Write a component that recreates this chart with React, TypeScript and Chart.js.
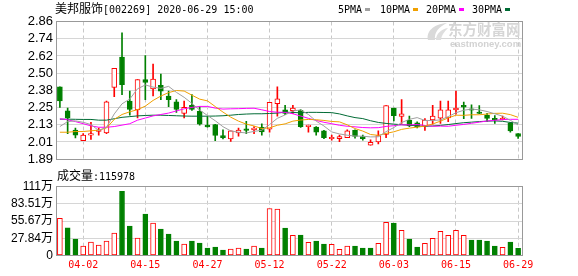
import React, { useEffect, useRef } from 'react';
import { Chart, registerables } from 'chart.js';
Chart.register(...registerables);

const TITLE_NAME = '美邦服饰';
const TITLE_REST = '[002269] 2020-06-29 15:00';
const VOLUME_TITLE = '成交量';
const VOLUME_LAST = ':115978';

const DATES = [
  '03-30','03-31','04-01','04-02','04-03','04-07','04-08','04-09','04-10','04-13',
  '04-14','04-15','04-16','04-17','04-20','04-21','04-22','04-23','04-24','04-27',
  '04-28','04-29','04-30','05-06','05-07','05-08','05-11','05-12','05-13','05-14',
  '05-15','05-18','05-19','05-20','05-21','05-22','05-25','05-26','05-27','05-28',
  '05-29','06-01','06-02','06-03','06-04','06-05','06-08','06-09','06-10','06-11',
  '06-12','06-15','06-16','06-17','06-18','06-19','06-22','06-23','06-24','06-29',
];
const X_TICKS = ['04-02','04-15','04-27','05-12','05-22','06-03','06-15','06-29'];

const OPEN = [
  2.40,2.23,2.095,2.02,2.06,2.085,2.075,2.395,2.61,2.30,
  2.237,2.45,2.385,2.41,2.335,2.295,2.213,2.27,2.228,2.13,
  2.133,2.057,2.033,2.075,2.10,2.097,2.115,2.102,2.282,2.237,
  2.232,2.235,2.12,2.117,2.09,2.034,2.035,2.042,2.093,2.049,
  1.989,2.011,2.064,2.25,2.192,2.164,2.146,2.122,2.166,2.179,
  2.18,2.237,2.27,2.244,2.219,2.199,2.177,2.168,2.146,2.071,
];
const CLOSE = [
  2.30,2.18,2.06,2.06,2.07,2.09,2.295,2.53,2.415,2.24,
  2.45,2.43,2.455,2.37,2.31,2.24,2.255,2.24,2.137,2.118,
  2.057,2.042,2.09,2.095,2.093,2.11,2.082,2.29,2.315,2.212,
  2.25,2.12,2.13,2.08,2.042,2.036,2.05,2.089,2.05,2.035,
  2.009,2.057,2.268,2.197,2.21,2.124,2.117,2.166,2.193,2.237,
  2.237,2.25,2.257,2.235,2.212,2.177,2.168,2.172,2.09,2.05,
];
const HIGH = [
  2.40,2.25,2.11,2.07,2.15,2.11,2.30,2.53,2.78,2.37,
  2.45,2.62,2.56,2.49,2.37,2.31,2.30,2.345,2.26,2.19,
  2.135,2.097,2.09,2.11,2.157,2.12,2.14,2.29,2.40,2.27,
  2.27,2.24,2.13,2.12,2.093,2.06,2.06,2.097,2.097,2.06,
  2.027,2.089,2.268,2.25,2.31,2.193,2.153,2.177,2.27,2.30,
  2.30,2.37,2.293,2.273,2.268,2.213,2.197,2.193,2.15,2.071,
];
const LOW = [
  2.255,2.07,2.04,2.02,2.03,2.06,2.07,2.33,2.345,2.20,
  2.18,2.31,2.335,2.31,2.26,2.22,2.18,2.233,2.13,2.115,
  2.02,2.033,2.015,2.053,2.07,2.07,2.06,2.08,2.193,2.204,
  2.21,2.113,2.08,2.06,2.035,2.024,2.013,2.042,2.038,2.024,
  1.989,1.997,2.042,2.16,2.142,2.12,2.11,2.093,2.137,2.142,
  2.155,2.208,2.175,2.177,2.21,2.157,2.142,2.166,2.08,2.037,
];

const MA5 = [
  2.12,2.155,2.16,2.15,2.134,2.092,2.115,2.209,2.28,2.314,
  2.386,2.413,2.398,2.389,2.403,2.361,2.326,2.283,2.236,2.198,
  2.161,2.119,2.089,2.080,2.075,2.086,2.094,2.134,2.178,2.202,
  2.230,2.237,2.205,2.158,2.124,2.082,2.068,2.059,2.053,2.052,
  2.047,2.048,2.084,2.113,2.148,2.171,2.183,2.163,2.162,2.167,
  2.19,2.217,2.235,2.243,2.238,2.226,2.210,2.193,2.164,2.131,
];
const MA10 = [
  2.08,2.08,2.085,2.085,2.09,2.095,2.11,2.17,2.205,2.224,
  2.239,2.264,2.304,2.335,2.359,2.374,2.370,2.341,2.313,2.301,
  2.261,2.222,2.186,2.158,2.137,2.124,2.106,2.111,2.129,2.139,
  2.158,2.166,2.170,2.168,2.163,2.156,2.153,2.132,2.106,2.088,
  2.064,2.058,2.072,2.083,2.100,2.109,2.116,2.123,2.138,2.158,
  2.181,2.200,2.199,2.203,2.203,2.208,2.213,2.214,2.204,2.185,
];
const MA20 = [
  2.175,2.168,2.155,2.14,2.125,2.115,2.115,2.12,2.13,2.14,
  2.165,2.18,2.195,2.205,2.215,2.23,2.245,2.255,2.262,2.262,
  2.250,2.243,2.245,2.246,2.248,2.249,2.238,2.226,2.221,2.220,
  2.210,2.194,2.178,2.163,2.150,2.140,2.129,2.122,2.118,2.113,
  2.111,2.112,2.121,2.126,2.132,2.132,2.134,2.128,2.122,2.123,
  2.122,2.129,2.135,2.143,2.151,2.159,2.164,2.169,2.171,2.171,
];
const MA30 = [
  2.172,2.172,2.171,2.17,2.17,2.165,2.165,2.175,2.185,2.19,
  2.195,2.198,2.2,2.2,2.198,2.196,2.194,2.193,2.193,2.193,
  2.194,2.196,2.2,2.205,2.208,2.21,2.21,2.212,2.215,2.221,
  2.219,2.217,2.220,2.220,2.219,2.218,2.209,2.195,2.183,2.176,
  2.161,2.149,2.142,2.137,2.133,2.129,2.125,2.122,2.124,2.128,
  2.134,2.141,2.147,2.151,2.155,2.158,2.160,2.157,2.149,2.144,
];

// volume in 万
const VOLUME = [
  60.0,44.9,26.6,15.3,21.8,17.0,23.4,36.3,104.0,47.6,
  28.2,67.0,52.5,42.8,34.7,23.4,18.6,23.4,20.2,12.0,
  13.7,8.9,10.5,12.0,10.5,15.3,12.0,76.0,75.0,44.4,
  32.6,33.0,21.3,23.4,18.6,18.0,10.0,15.3,15.3,12.0,
  12.0,19.7,53.6,52.5,40.7,26.6,13.7,19.7,27.8,39.0,
  32.6,40.7,32.6,25.0,25.0,23.4,15.3,13.2,21.8,11.6,
];
const VOLUME_UP = [
  1,0,0,1,1,1,1,1,0,0,
  1,0,1,0,0,0,1,0,0,0,
  0,0,1,1,0,1,0,1,1,0,
  1,0,1,0,0,1,1,1,0,0,
  0,1,1,0,1,0,0,1,1,1,
  1,1,1,0,0,0,0,1,0,0,
];

const PRICE_MIN = 1.89;
const PRICE_MAX = 2.86;
const PRICE_TICK_LABELS = ['1.89','2.01','2.13','2.25','2.38','2.50','2.62','2.74','2.86'];
const VOL_MAX = 111.35;
const VOL_TICK_LABELS = ['0','27.84万','55.67万','83.51万','111万'];

const LEGEND = [
  { name: '5PMA', color: '#a0a0a0', x: 338, sq: 365 },
  { name: '10PMA', color: '#f0a000', x: 380, sq: 413 },
  { name: '20PMA', color: '#ff00ff', x: 426, sq: 459 },
  { name: '30PMA', color: '#006b35', x: 472, sq: 505 },
];

const RED = '#ff0000';
const GREEN = '#008000';
const MONO = "'DejaVu Sans Mono', monospace";
const CJK = "'Noto Sans CJK SC', sans-serif";
const SANS = "'Liberation Sans', Arial, 'Noto Sans CJK SC', sans-serif";

const framePlugin = {
  id: 'frame',
  afterDraw(chart: any) {
    const { ctx, chartArea: a } = chart;
    const x0 = Math.floor(a.left) + 0.5;
    const x1 = Math.floor(a.right) + 0.5;
    const y0 = Math.floor(a.top) + 0.5;
    const y1 = Math.floor(a.bottom) + 0.5;
    ctx.save();
    ctx.strokeStyle = '#999999';
    ctx.lineWidth = 1;
    ctx.strokeRect(x0, y0, x1 - x0, y1 - y0);
    ctx.restore();
  },
};

const vGridColor = (ctx: any) =>
  X_TICKS.includes(DATES[ctx.index]) ? '#c8c8c8' : 'rgba(0,0,0,0)';

export default function App() {
  const mainRef = useRef<HTMLCanvasElement>(null);
  const volRef = useRef<HTMLCanvasElement>(null);

  useEffect(() => {
    const up = CLOSE.map((c, i) => c >= OPEN[i]);
    const candleColor = up.map((u) => (u ? RED : GREEN));
    const mk = (data: number[], color: string) => ({
      type: 'line' as const,
      data,
      borderColor: color,
      borderWidth: 1,
      pointRadius: 0,
      tension: 0,
      fill: false,
      order: 0,
    });

    const main = new Chart(mainRef.current!, {
      type: 'bar',
      data: {
        labels: DATES,
        datasets: [
          mk(MA5, LEGEND[0].color),
          mk(MA10, LEGEND[1].color),
          mk(MA20, LEGEND[2].color),
          mk(MA30, LEGEND[3].color),
          {
            type: 'bar',
            data: OPEN.map((o, i) => [o, CLOSE[i]]),
            backgroundColor: up.map((u) => (u ? '#ffffff' : GREEN)),
            borderColor: candleColor,
            borderWidth: 1,
            borderSkipped: false,
            barThickness: 5,
            minBarLength: 1.5,
            grouped: false,
            order: 1,
          } as any,
          {
            type: 'bar',
            data: LOW.map((l, i) => [l, HIGH[i]]),
            backgroundColor: candleColor,
            borderWidth: 0,
            barThickness: 1,
            grouped: false,
            order: 2,
          } as any,
        ],
      },
      options: {
        responsive: false,
        animation: false,
        devicePixelRatio: 1,
        events: [],
        layout: { padding: { top: 21.5, right: 56, bottom: 4, left: 0 } },
        plugins: { legend: { display: false }, tooltip: { enabled: false } },
        scales: {
          x: {
            type: 'category',
            offset: true,
            grid: { offset: false, color: vGridColor, drawTicks: false, lineWidth: 1 },
            border: { display: false, dash: [4, 3] },
            ticks: { display: false },
            afterFit: (s: any) => { s.height = 0; },
          } as any,
          y: {
            type: 'linear',
            min: PRICE_MIN,
            max: PRICE_MAX,
            afterBuildTicks: (s: any) => {
              s.ticks = PRICE_TICK_LABELS.map((_, k) => ({
                value: PRICE_MIN + (k * (PRICE_MAX - PRICE_MIN)) / (PRICE_TICK_LABELS.length - 1),
              }));
            },
            ticks: {
              autoSkip: false,
              padding: 3,
              color: '#000000',
              font: { family: SANS, size: 13 },
              callback: (_v: any, i: number) => PRICE_TICK_LABELS[i],
            },
            grid: { color: '#d6d6d6', drawTicks: false },
            border: { display: false },
            afterFit: (s: any) => { s.width = 56; },
          } as any,
        },
      },
      plugins: [framePlugin],
    });

    const vol = new Chart(volRef.current!, {
      type: 'bar',
      data: {
        labels: DATES,
        datasets: [
          {
            data: VOLUME,
            backgroundColor: VOLUME_UP.map((u) => (u ? '#ffffff' : GREEN)),
            borderColor: VOLUME_UP.map((u) => (u ? RED : GREEN)),
            borderWidth: 1,
            borderSkipped: false,
            barThickness: 5,
          } as any,
        ],
      },
      options: {
        responsive: false,
        animation: false,
        devicePixelRatio: 1,
        events: [],
        layout: { padding: { top: 20.7, right: 56, bottom: 0.5, left: 0 } },
        plugins: { legend: { display: false }, tooltip: { enabled: false } },
        scales: {
          x: {
            type: 'category',
            offset: true,
            grid: { offset: false, color: vGridColor, drawTicks: false, lineWidth: 1 },
            border: { display: false, dash: [4, 3] },
            ticks: {
              autoSkip: false,
              maxRotation: 0,
              minRotation: 0,
              padding: 4,
              color: RED,
              font: { family: MONO, size: 10 },
              callback: (_v: any, i: number) => (X_TICKS.includes(DATES[i]) ? DATES[i] : ''),
            },
            afterFit: (s: any) => { s.height = 20; },
          } as any,
          y: {
            type: 'linear',
            min: 0,
            max: VOL_MAX,
            afterBuildTicks: (s: any) => {
              s.ticks = VOL_TICK_LABELS.map((_, k) => ({
                value: (k * VOL_MAX) / (VOL_TICK_LABELS.length - 1),
              }));
            },
            ticks: {
              autoSkip: false,
              padding: 3,
              color: '#000000',
              font: { family: SANS, size: 12 },
              callback: (_v: any, i: number) => VOL_TICK_LABELS[i],
            },
            grid: { color: '#d6d6d6', drawTicks: false },
            border: { display: false },
            afterFit: (s: any) => { s.width = 56; },
          } as any,
        },
      },
      plugins: [framePlugin],
    });

    return () => {
      main.destroy();
      vol.destroy();
    };
  }, []);

  const abs = (x: number, y: number): React.CSSProperties => ({
    position: 'absolute',
    left: x,
    top: y,
    whiteSpace: 'nowrap',
    margin: 0,
    padding: 0,
  });

  return (
    <div style={{ position: 'absolute', left: 0, top: 0, width: 578, height: 276, background: '#ffffff', overflow: 'hidden' }}>
      <canvas ref={mainRef} width={578} height={170} style={{ position: 'absolute', left: 0, top: 0, display: 'block' }} />
      <canvas ref={volRef} width={578} height={110} style={{ position: 'absolute', left: 0, top: 166, display: 'block' }} />

      <div style={{ ...abs(55, 1), fontFamily: CJK, fontSize: 12, lineHeight: '14px', color: '#000' }}>{TITLE_NAME}</div>
      <div style={{ ...abs(103, 4), fontFamily: MONO, fontSize: 10, lineHeight: '12px', color: '#000' }}>{TITLE_REST}</div>

      {LEGEND.map((l) => (
        <React.Fragment key={l.name}>
          <div style={{ ...abs(l.x, 3.5), fontFamily: MONO, fontSize: 10, lineHeight: '12px', color: '#000' }}>{l.name}</div>
          <div style={{ ...abs(l.sq, 8), width: 5, height: 3, background: l.color }} />
        </React.Fragment>
      ))}

      <svg style={{ position: 'absolute', left: 425, top: 22 }} width={24} height={19} viewBox="0 0 24 19">
        <path d="M3 18 C 1 10, 8 2, 22 1 C 14 5, 9 10, 10 18 Z" fill="#d9d9d9" />
        <path d="M11 18 C 11 12, 16 7, 23 6 C 19 10, 16 14, 16 18 Z" fill="#dedede" />
      </svg>
      <div style={{ ...abs(448, 20), fontFamily: CJK, fontSize: 14.5, fontWeight: 'bold', lineHeight: '18px', color: '#d6d6d6' }}>东方财富网</div>
      <div style={{ ...abs(450, 37.5), fontFamily: SANS, fontSize: 9.5, fontWeight: 'bold', lineHeight: '11px', color: '#d2d2d2' }}>eastmoney.com</div>

      <div style={{ ...abs(57, 168), fontFamily: CJK, fontSize: 12, lineHeight: '14px', color: '#000' }}>{VOLUME_TITLE}</div>
      <div style={{ ...abs(93, 171), fontFamily: MONO, fontSize: 10, lineHeight: '12px', color: '#000' }}>{VOLUME_LAST}</div>
    </div>
  );
}
